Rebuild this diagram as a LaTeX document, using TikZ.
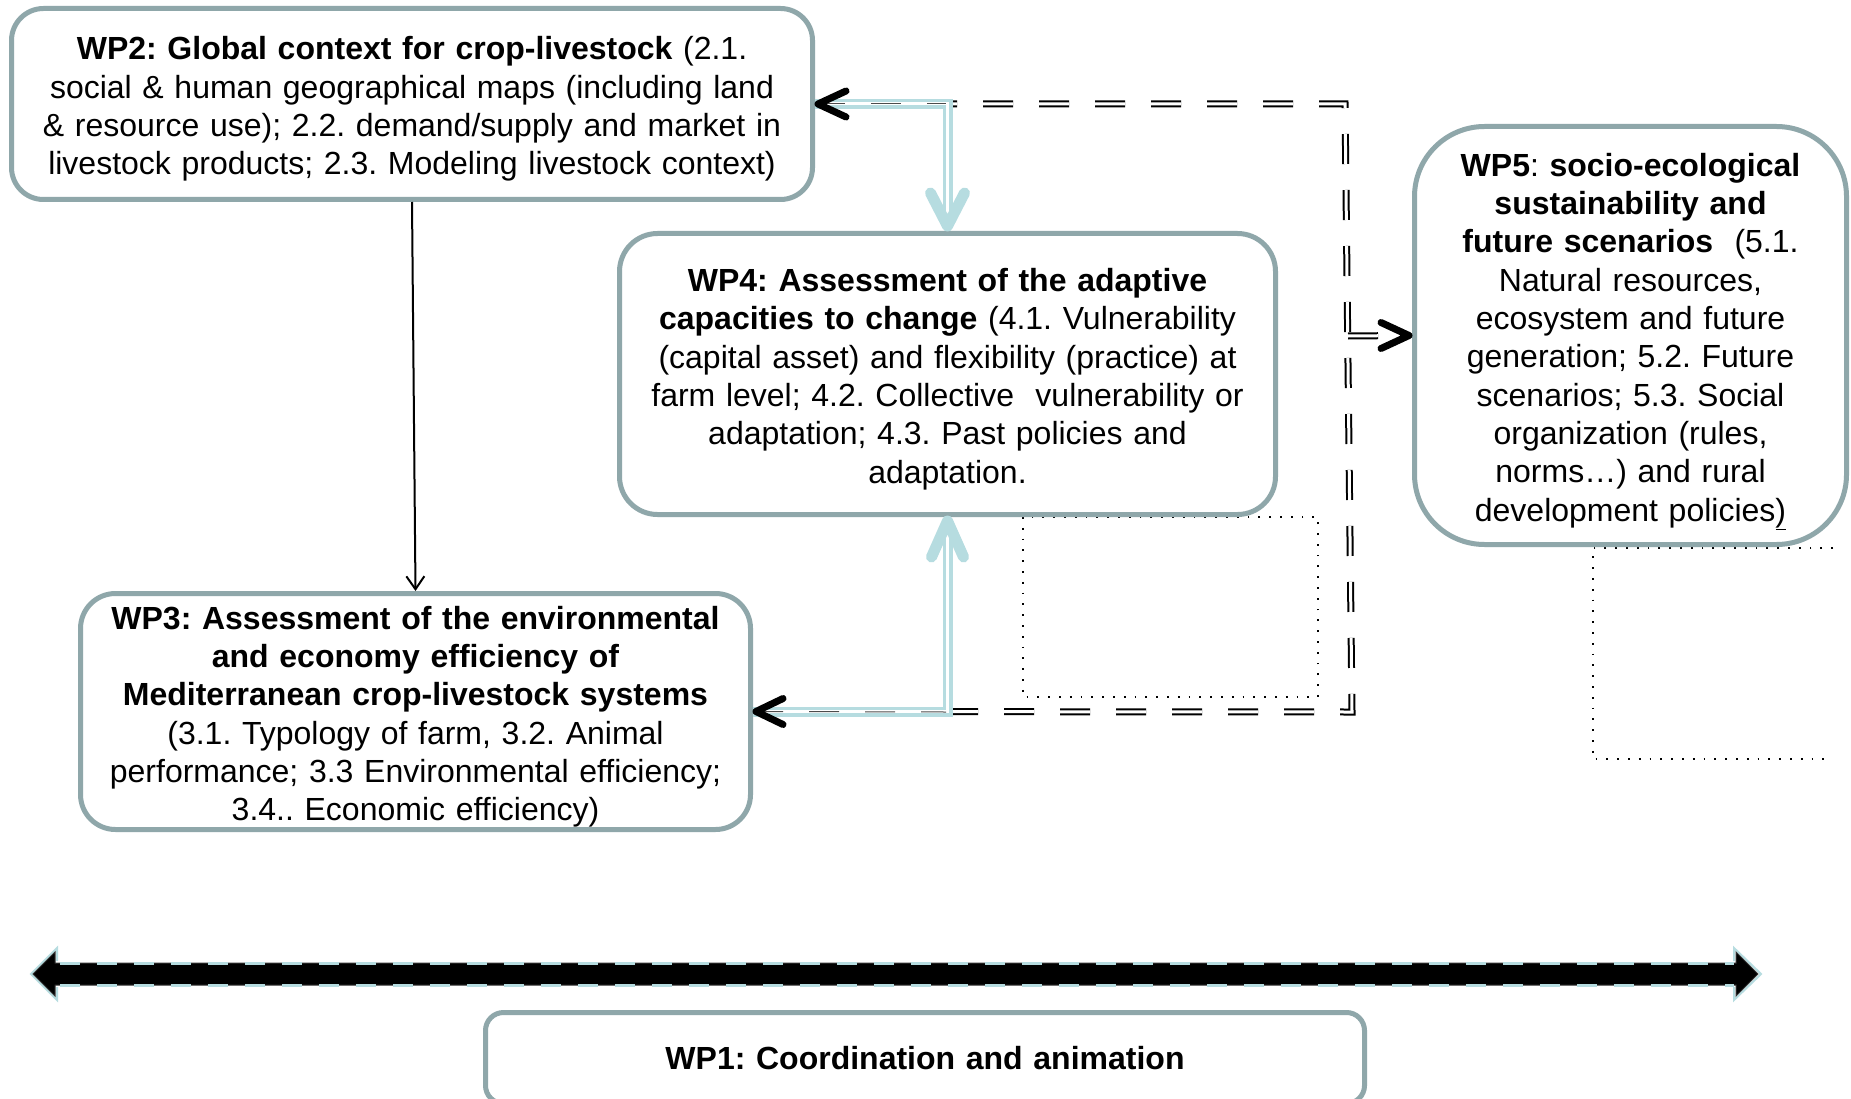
\documentclass[tikz,border=0pt]{standalone}
\usepackage{fontspec}
\setmainfont{Liberation Sans}
\usetikzlibrary{arrows.meta,calc}
\definecolor{bordergray}{RGB}{143,167,170}
\definecolor{lblue}{RGB}{182,220,224}
\frenchspacing
\newcommand{\topstrut}{\rule{0pt}{33.5pt}}
\begin{document}
\begin{tikzpicture}[x=1pt,y=-1pt,
  box/.style={draw=bordergray, line width=5pt, fill=white, align=center, inner sep=0pt,
              font=\fontsize{32}{38.3}\selectfont\frenchspacing},
  dotbox/.style={line width=1.8pt, dash pattern=on 1.8pt off 9pt},
  blueline/.style={draw=lblue, line width=3.5pt, double=white, double distance=3pt},
  blackdash/.style={draw=black, line width=2pt, double=white, double distance=3pt, dash pattern=on 30pt off 26pt},
  centerdash/.style={draw=black!70, line width=1pt, dash pattern=on 30pt off 26pt},
  bhead/.style={draw=black, line width=7pt, line cap=round, line join=round},
  lhead/.style={draw=lblue, line width=11pt, line cap=round, line join=round},
  thinarrow/.style={draw=black, line width=2pt, -{Straight Barb[length=13pt,width=18pt]}},
]
\useasboundingbox (0,0) rectangle (1851,1099);
\clip (0,0) rectangle (1851,1099);
\fill[white] (0,0) rectangle (1851,1099);

% dotted rectangles
\draw[dotbox] (1023,517) rectangle (1318,697);
\draw[dotbox] (1833,548) -- (1593,548) -- (1593,759) -- (1833,759);

% boxes
\node[box, minimum width=801pt, minimum height=191pt, rounded corners=32pt, text width=790pt] (wp2) at (412,104)
 {\topstrut{\bfseries WP2: Global context for crop-livestock} (2.1.\\
  social \& human geographical maps (including land\\
  \& resource use); 2.2. demand/supply and market in\\
  livestock products; 2.3. Modeling livestock context)};

\node[box, minimum width=656pt, minimum height=281pt, rounded corners=38pt, text width=640pt] (wp4) at (947.5,374)
 {\topstrut{\bfseries WP4: Assessment of the adaptive}\\
  {\bfseries capacities to change} (4.1. Vulnerability\\
  (capital asset) and flexibility (practice) at\\
  farm level; 4.2. Collective\ \ vulnerability or\\
  adaptation; 4.3. Past policies and\\
  adaptation.};

\node[box, minimum width=670pt, minimum height=236pt, rounded corners=35pt, text width=660pt] (wp3) at (415.5,711.5)
 {\topstrut{\bfseries WP3: Assessment of the environmental}\\
  {\bfseries and economy efficiency of}\\
  {\bfseries Mediterranean crop-livestock systems}\\
  (3.1. Typology of farm, 3.2. Animal\\
  performance; 3.3 Environmental efficiency;\\
  3.4.. Economic efficiency)};

\node[box, minimum width=432pt, minimum height=418pt, rounded corners=70pt, text width=420pt] (wp5) at (1630.5,335.5)
 {\rule{0pt}{35pt}{\bfseries WP5}: {\bfseries socio-ecological}\\
  {\bfseries sustainability and}\\
  {\bfseries future scenarios}\ \ (5.1.\\
  Natural resources,\\
  ecosystem and future\\
  generation; 5.2. Future\\
  scenarios; 5.3. Social\\
  organization (rules,\\
  norms…) and rural\\
  development policies\underline{)}};

\node[box, minimum width=879pt, minimum height=91pt, rounded corners=18pt, text width=860pt] (wp1) at (925,1058)
 {{\bfseries WP1: Coordination and animation}};

% black dashed double route
\coordinate (ctop) at (1345,104);
\coordinate (cbot) at (1352,712);
\coordinate (cbr) at (1348,336);
\draw[blackdash] (wp2.east) -- (ctop) -- (cbot) -- (wp3.east);
\draw[blackdash] (cbr) -- ($(wp5.west)+(-6,0)$);

% light blue double routes
\draw[blueline] (wp2.east) -| ($(wp4.north)+(0,-6)$);
\draw[blueline] (wp3.east) -| ($(wp4.south)+(0,6)$);
\draw[centerdash] (wp2.east) -- (946,104);
\draw[centerdash] (wp3.east) -- (946,712);
\draw[lhead] ($(wp4.north)+(-17,-38)$) -- ($(wp4.north)+(0,-5)$) -- ($(wp4.north)+(17,-38)$);
\draw[lhead] ($(wp4.south)+(-16,40)$) -- ($(wp4.south)+(0,4)$) -- ($(wp4.south)+(16,40)$);

% black arrowheads
\draw[bhead] ($(wp2.east)+(31,-13)$) -- ($(wp2.east)+(3,0)$) -- ($(wp2.east)+(31,13)$);
\draw[bhead] ($(wp3.east)+(30,-13)$) -- ($(wp3.east)+(3,0)$) -- ($(wp3.east)+(30,13)$);
\draw[bhead] ($(wp5.west)+(-31,-13)$) -- ($(wp5.west)+(-3,0)$) -- ($(wp5.west)+(-31,13)$);

% WP2 -> WP3
\draw[thinarrow] (wp2.south) -- (wp3.north);

% big double arrow
\draw[lblue, line width=2pt, line join=miter] (57,961) -- (57,948) -- (31,974) -- (57,1000) -- (57,987);
\draw[lblue, line width=2pt, line join=miter] (1734,961) -- (1734,948) -- (1761,974) -- (1734,1000) -- (1734,987);
\filldraw[fill=black, draw=black!80, line width=1pt] (33,974) -- (55,952) -- (55,963) -- (1736,963) -- (1736,952) -- (1758,974)
  -- (1736,996) -- (1736,985) -- (55,985) -- (55,996) -- cycle;
\draw[lblue, line width=3pt, dash pattern=on 20pt off 17pt] (60,963) -- (1734,963);
\draw[lblue, line width=3pt, dash pattern=on 20pt off 17pt] (60,985) -- (1734,985);
\end{tikzpicture}
\end{document}
